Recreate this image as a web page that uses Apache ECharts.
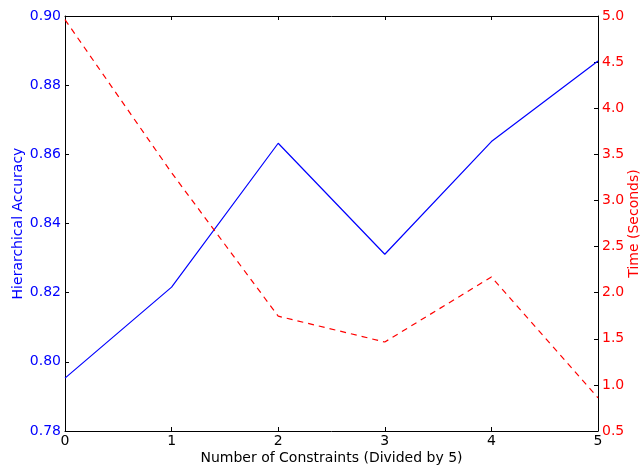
<!DOCTYPE html>
<html>
<head>
<meta charset="utf-8">
<script src="https://cdn.jsdelivr.net/npm/echarts@6/dist/echarts.min.js"></script>
<style>
  html, body { margin: 0; padding: 0; background: #fff; }
  #chart { width: 642px; height: 471px; }
</style>
</head>
<body>
<div id="chart"></div>
<script>
const categories = ["0", "1", "2", "3", "4", "5"];
const accuracy = [0.7953, 0.8216, 0.8632, 0.8311, 0.8637, 0.8870];
const timeSeconds = [4.96, 3.30, 1.745, 1.465, 2.17, 0.86];

const font = "DejaVu Sans";
const fs = 14;
const chart = echarts.init(document.getElementById("chart"));

const tickInside = { show: true, inside: true, length: 4, lineStyle: { color: "#000", width: 1 } };

chart.setOption({
  animation: false,
  grid: { left: 65, right: 44, top: 16, bottom: 40, containLabel: false, outerBoundsMode: "none" },
  xAxis: [
    {
      type: "category",
      data: categories,
      boundaryGap: false,
      name: "Number of Constraints (Divided by 5)",
      nameLocation: "middle",
      nameGap: 20,
      nameMoveOverlap: false,
      nameTextStyle: { color: "#000", fontFamily: font, fontSize: fs },
      axisLine: { lineStyle: { color: "#000", width: 1 } },
      axisTick: Object.assign({ alignWithLabel: true }, tickInside),
      axisLabel: { color: "#000", fontFamily: font, fontSize: fs, margin: 3 },
      splitLine: { show: false }
    },
    {
      type: "category",
      data: categories,
      boundaryGap: false,
      position: "top",
      axisLine: { lineStyle: { color: "#000", width: 1 } },
      axisTick: tickInside,
      axisLabel: { show: false },
      splitLine: { show: false }
    }
  ],
  yAxis: [
    {
      type: "value",
      min: 0.78,
      max: 0.90,
      interval: 0.02,
      name: "Hierarchical Accuracy",
      nameLocation: "middle",
      nameGap: 40,
      nameMoveOverlap: false,
      nameRotate: 90,
      nameTextStyle: { color: "#0000ff", fontFamily: font, fontSize: fs },
      axisLine: { show: true, lineStyle: { color: "#000", width: 1 } },
      axisTick: tickInside,
      axisLabel: { color: "#0000ff", fontFamily: font, fontSize: fs, margin: 4,
        formatter: (v) => v.toFixed(2) },
      splitLine: { show: false }
    },
    {
      type: "value",
      min: 0.5,
      max: 5.0,
      interval: 0.5,
      name: "Time (Seconds)",
      nameLocation: "middle",
      nameGap: 29,
      nameMoveOverlap: false,
      nameRotate: 90,
      nameTextStyle: { color: "#ff0000", fontFamily: font, fontSize: fs },
      axisLine: { show: true, lineStyle: { color: "#000", width: 1 } },
      axisTick: tickInside,
      axisLabel: { color: "#ff0000", fontFamily: font, fontSize: fs, margin: 4,
        formatter: (v) => v.toFixed(1) },
      splitLine: { show: false }
    }
  ],
  series: [
    {
      name: "Hierarchical Accuracy",
      type: "line",
      xAxisIndex: 0,
      yAxisIndex: 0,
      data: accuracy,
      showSymbol: false,
      lineStyle: { color: "#0000ff", width: 1.2 },
      itemStyle: { color: "#0000ff" }
    },
    {
      name: "Time (Seconds)",
      type: "line",
      xAxisIndex: 0,
      yAxisIndex: 1,
      data: timeSeconds,
      showSymbol: false,
      lineStyle: { color: "#ff0000", width: 1.2, type: [6, 5] },
      itemStyle: { color: "#ff0000" }
    }
  ]
});
</script>
</body>
</html>
